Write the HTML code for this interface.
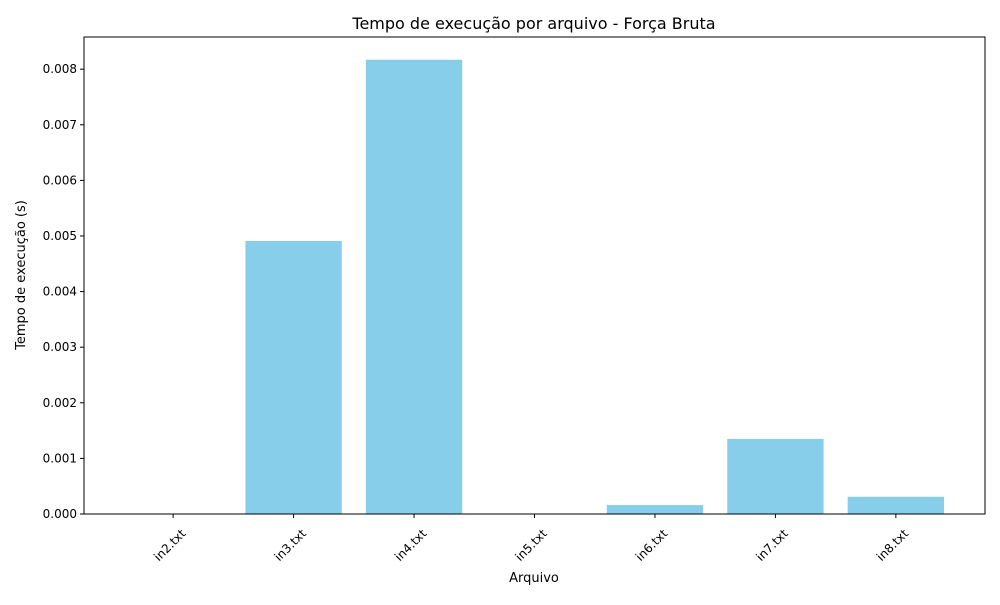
<!DOCTYPE html>
<html><head><meta charset="utf-8"><style>
body{margin:0;background:#fff;font-family:"Liberation Sans","DejaVu Sans",sans-serif;}
svg text{font-family:"DejaVu Sans","Liberation Sans",sans-serif;}
</style></head><body>
<svg id="chart" width="1000" height="600" viewBox="0 0 1000 600">
<rect width="1000" height="600" fill="#fff"/>
<text x="534" y="29" font-size="16" text-anchor="middle">Tempo de execução por arquivo - Força Bruta</text>
<text x="534" y="582" font-size="13" text-anchor="middle">Arquivo</text>
<text transform="translate(25,275) rotate(-90)" font-size="13" text-anchor="middle">Tempo de execução (s)</text>
<g id="bars"></g><g id="ticks"></g>
<rect x="84" y="37" width="901" height="477" fill="none" stroke="#000" stroke-width="1"/>
</svg>
<script>
const categories=["in2.txt","in3.txt","in4.txt","in5.txt","in6.txt","in7.txt","in8.txt"];
const values=[0.000002,0.00491,0.00817,0.000001,0.00016,0.00135,0.00031];
const yTicks=[0,0.001,0.002,0.003,0.004,0.005,0.006,0.007,0.008];
const yTickLabels=["0.000","0.001","0.002","0.003","0.004","0.005","0.006","0.007","0.008"];
const L=84,R=985,T=37,B=514,NS="http://www.w3.org/2000/svg";
const n=categories.length,xmin=-0.4-0.05*(n-0.2),xmax=n-0.6+0.05*(n-0.2);
const x=i=>L+(i-xmin)/(xmax-xmin)*(R-L);
const ymax=Math.max(...values)*1.05;
const y=v=>B-v/ymax*(B-T);
const bw=0.8*(R-L)/(xmax-xmin);
const bars=document.getElementById('bars'),ticks=document.getElementById('ticks');
function mk(t,a,p){const e=document.createElementNS(NS,t);for(const k in a)e.setAttribute(k,a[k]);p.appendChild(e);return e;}
values.forEach((v,i)=>{const r=mk('rect',{x:x(i)-bw/2,y:y(v),width:bw,height:B-y(v),fill:'#87ceeb'},bars);


const l=mk('line',{x1:x(i),x2:x(i),y1:B,y2:B+4,stroke:'#000'},ticks);


const cx=x(i)+5,cy=B+16;
const t=mk('text',{x:cx+4,y:cy+6,'font-size':12,'text-anchor':'end',transform:`rotate(-45 ${cx+4} ${cy})`},ticks);t.textContent=categories[i];

});
yTicks.forEach((v,i)=>{const l=mk('line',{x1:L-4,x2:L,y1:y(v),y2:y(v),stroke:'#000'},ticks);


const t=mk('text',{x:L-7,y:y(v)+4,'font-size':12,'text-anchor':'end'},ticks);t.textContent=yTickLabels[i];

});
</script>
</body></html>
